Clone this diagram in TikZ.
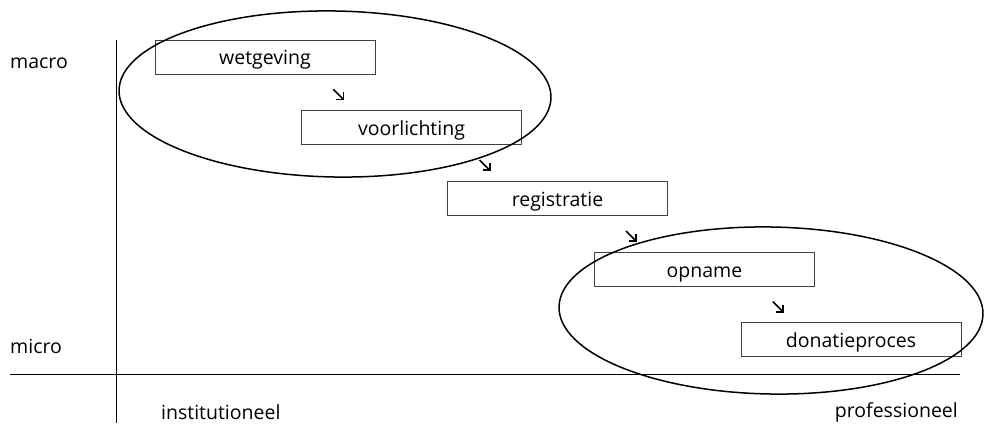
\documentclass[tikz,border=0pt]{standalone}
\usepackage{fontspec}
\setmainfont{Open Sans}
\usetikzlibrary{arrows.meta,calc}
\begin{document}
\begin{tikzpicture}[x=1pt,y=-1pt,
  stage/.style={draw=black!75,line width=0.8pt,minimum width=220pt,minimum height=34pt,inner sep=0pt,text height=15pt,text depth=0pt,font=\fontsize{19.5}{22}\selectfont},
  lbl/.style={font=\fontsize{19.5}{22}\selectfont,inner sep=0pt},
  axis/.style={line width=0.8pt},
  ring/.style={line width=1.5pt},
  flow/.style={line width=1.6pt,-{Straight Barb[angle=90:7pt]}}]
\useasboundingbox (0,0) rectangle (984,423);
% axes
\coordinate (vtop) at (116,40);
\coordinate (vbot) at (116,423);
\coordinate (hl) at (10,374);
\coordinate (hr) at (960,374);
\draw[axis] (vtop) -- (vbot);
\draw[axis] (hl) -- (hr);
% boxes
\node[stage] (a) at (265,57) {wetgeving};
\node[stage] (b) at (411.5,127.5) {voorlichting};
\node[stage] (c) at (557.5,198.5) {registratie};
\node[stage] (d) at (704.5,269.5) {opname};
\node[stage] (e) at (851,339.5) {donatieproces};
% arrows
\foreach \p/\q in {a/b,b/c,c/d,d/e}{
  \draw[flow] ($(\p.south)!0.5!(\q.north)+(-5,-3)$) -- ($(\p.south)!0.5!(\q.north)+(6,8)$);
}
% ellipses
\draw[ring,rotate around={-1:(335,94)}] (335,94) ellipse [x radius=216, y radius=83];
\draw[ring,rotate around={-1:(771,310.5)}] (771,310.5) ellipse [x radius=212, y radius=83.5];
% labels
\node[lbl,anchor=west] (macro) at (10,63) {macro};
\node[lbl,anchor=west] (micro) at (10,346) {micro};
\node[lbl,anchor=west] (inst) at (161,412) {institutioneel};
\node[lbl,anchor=east] (prof) at (958,412) {professioneel};
\end{tikzpicture}
\end{document}
